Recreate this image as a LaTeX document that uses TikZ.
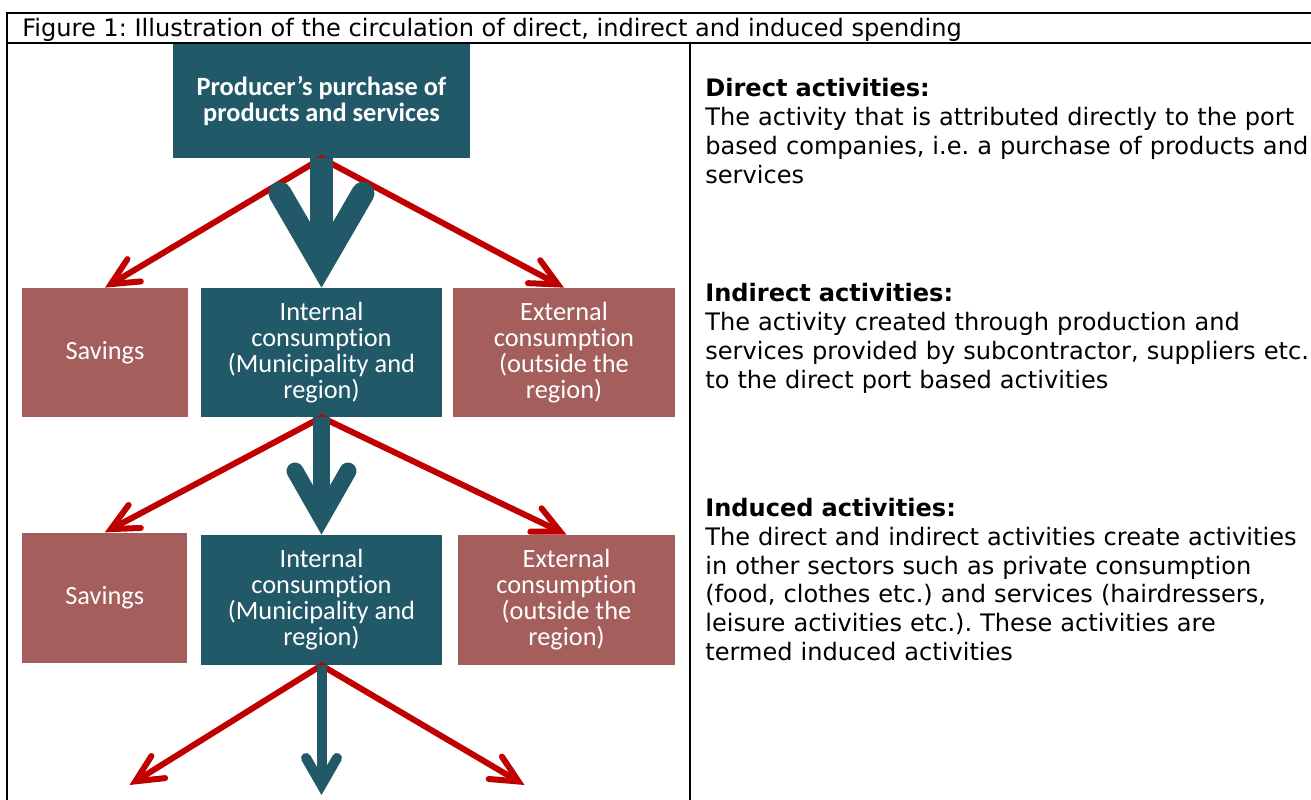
\documentclass[tikz,border=0pt]{standalone}
\usepackage{fontspec}
\setmainfont{DejaVu Sans}
\newfontfamily\boxfont[Ligatures={NoCommon,NoContextual,NoRare}, Contextuals=NoAlternate]{Carlito}
\usetikzlibrary{arrows.meta}
\definecolor{tealc}{HTML}{215968}
\definecolor{rosec}{HTML}{A45F5C}
\definecolor{redc}{HTML}{C00000}
\frenchspacing

\begin{document}
\begin{tikzpicture}[x=0.02cm, y=-0.02cm]

\tikzset{box/.style = {shape=rectangle, inner sep=0pt, text=white, align=center, font=\boxfont\fontsize{15}{14.8}\selectfont}}
\tikzset{inbox/.style = {box, fill=tealc}}
\tikzset{outbox/.style = {box, fill=rosec}}
\tikzset{spend/.style = {draw=redc, line width=0.12cm, line cap=round, -{Straight Barb[length=0.54cm, width=0.52cm, line cap=round, line join=miter]}}}
\tikzset{flow/.style n args = {3}{draw=tealc, line width=#1, -{Straight Barb[length=#2, width=#3, line cap=round, line join=miter]}}}
\tikzset{info/.style = {anchor=base west, inner sep=0pt, text width=13cm, align=left, font=\fontsize{13.7}{16.4}\selectfont}}
\tikzset{frame/.style = {draw=black, line width=0.04cm}}

\useasboundingbox (0,0) rectangle (1311,800);

%frame
\draw[frame] (7,800) -- (7,13) -- (1311,13);
\draw[frame] (7,43) -- (1311,43);
\draw[frame] (690,43) -- (690,800);
\node[anchor=base west, inner sep=0pt, font=\fontsize{13.7}{16.4}\selectfont] (title) at (22,37) {Figure 1: Illustration of the circulation of direct, indirect and induced spending};

%boxes
\node[inbox, minimum width=5.94cm, minimum height=2.28cm, font=\boxfont\bfseries\fontsize{15}{15.2}\selectfont] (prod) at (321.5,101) {Producer’s purchase of\\products and services};
\node[outbox, minimum width=3.32cm, minimum height=2.58cm] (sav1) at (105,352.5) {Savings};
\node[inbox, minimum width=4.82cm, minimum height=2.58cm] (int1) at (321.5,352.5) {Internal\\consumpt\kern0pt ion\\(Municipality and\\region)};
\node[outbox, minimum width=4.44cm, minimum height=2.58cm] (ext1) at (564,352.5) {External\\consumpt\kern0pt ion\\(outside the\\region)};
\node[outbox, minimum width=3.31cm, minimum height=2.6cm] (sav2) at (104.75,597.7) {Savings};
\node[inbox, minimum width=4.82cm, minimum height=2.6cm] (int2) at (321.5,600) {Internal\\consumpt\kern0pt ion\\(Municipality and\\region)};
\node[outbox, minimum width=4.34cm, minimum height=2.6cm] (ext2) at (566.5,600) {External\\consumpt\kern0pt ion\\(outside the\\region)};
\coordinate (l3) at (129.5,785);
\coordinate (r3) at (524.5,785);
\coordinate (d3) at (321.5,795);

%spending
\draw[spend] (prod.south) -- (sav1.north);
\draw[spend] (prod.south) -- (ext1.north);
\draw[spend] (int1.south) -- (sav2.north);
\draw[spend] (int1.south) -- (ext2.north);
\draw[spend] (int2.south) -- (l3);
\draw[spend] (int2.south) -- (r3);
\draw[flow={0.46cm}{1.43cm}{1.66cm}] (prod.south) -- (int1.north);
\draw[flow={0.34cm}{0.93cm}{1.06cm}] (int1.south) -- (int2.north);
\draw[flow={0.2cm}{0.54cm}{0.62cm}] (int2.south) -- (d3);

%activities
\node[info] (direct) at (705,97) {\textbf{Direct activities:}\\The activity that is attributed directly to the port\\based companies, i.e. a purchase of products and\\services};
\node[info] (indirect) at (705,302) {\textbf{Indirect activities:}\\The activity created through production and\\services provided by subcontractor, suppliers etc.\\to the direct port based activities};
\node[info] (induced) at (705,516.5) {\textbf{Induced activities:}\\The direct and indirect activities create activities\\in other sectors such as private consumption\\(food, clothes etc.) and services (hairdressers,\\leisure activities etc.). These activities are\\termed induced activities};

\end{tikzpicture}
\end{document}
